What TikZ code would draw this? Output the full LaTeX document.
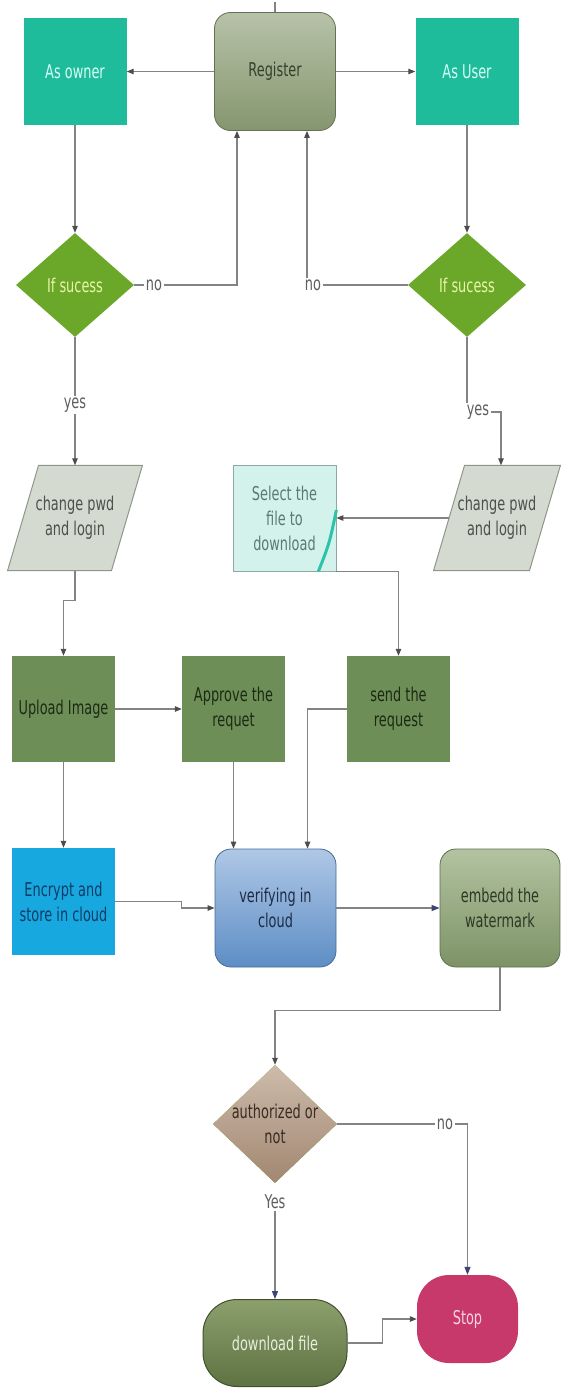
\documentclass[tikz,border=0pt]{standalone}
\usepackage{fontspec}
\newfontfamily\diagfont[FakeStretch=0.68]{DejaVu Sans}
\usetikzlibrary{shapes.geometric,arrows.meta,backgrounds}

\definecolor{tealfill}{HTML}{1FBC9C}
\definecolor{tealtext}{HTML}{D6FFF6}
\definecolor{regtop}{HTML}{B7C2A8}
\definecolor{regbot}{HTML}{85966F}
\definecolor{regtext}{HTML}{34412C}
\definecolor{okfill}{HTML}{6BA829}
\definecolor{oktext}{HTML}{E6F5A8}
\definecolor{parafill}{HTML}{D5DAD1}
\definecolor{paraline}{HTML}{8E968A}
\definecolor{paratext}{HTML}{4C5249}
\definecolor{selfill}{HTML}{D3F2EB}
\definecolor{selline}{HTML}{8FA8A2}
\definecolor{seltext}{HTML}{5A7A72}
\definecolor{selstripe}{HTML}{2CC4A8}
\definecolor{olivefill}{HTML}{6E8E57}
\definecolor{olivetext}{HTML}{1C2A13}
\definecolor{encfill}{HTML}{18A8E0}
\definecolor{enctext}{HTML}{0F3C66}
\definecolor{vertop}{HTML}{AFC8E6}
\definecolor{verbot}{HTML}{5D8DC5}
\definecolor{vertext}{HTML}{1E2C46}
\definecolor{embtop}{HTML}{B3C3A1}
\definecolor{embbot}{HTML}{7D9366}
\definecolor{embtext}{HTML}{2D3925}
\definecolor{authtop}{HTML}{CDBBAB}
\definecolor{authbot}{HTML}{A28771}
\definecolor{authtext}{HTML}{3A2C22}
\definecolor{dltop}{HTML}{8CA06E}
\definecolor{dlbot}{HTML}{5E7242}
\definecolor{dltext}{HTML}{E6EEDC}
\definecolor{stopfill}{HTML}{C8396B}
\definecolor{stoptext}{HTML}{F7D2E2}
\definecolor{tagtext}{HTML}{5E5E5E}
\definecolor{linecol}{HTML}{838383}
\definecolor{tipcol}{HTML}{4D4D4D}
\definecolor{tipblue}{HTML}{3E4372}

\tikzset{
  base/.style={font=\diagfont\fontsize{19}{25}\selectfont, align=center, inner sep=0pt},
  box/.style={base, rectangle, minimum width=103pt, minimum height=106pt},
  tealbox/.style={box, fill=tealfill, text=tealtext, minimum height=107pt},
  olivebox/.style={box, fill=olivefill, text=olivetext},
  softbox/.style={base, rounded corners=16pt, draw=#1bot!75!black, line width=0.8pt,
    minimum width=121pt, minimum height=118pt, top color=#1top, bottom color=#1bot, text=#1text},
  decision/.style={base, diamond, minimum width=118pt, minimum height=104pt, inner sep=-8pt,
    fill=okfill, text=oktext},
  slanted/.style={base, minimum height=105pt, text=paratext},
  parashape/.style={fill=parafill, draw=paraline, line width=1pt},
  tag/.style={base, text=tagtext, inner sep=1.5pt},
  link/.style={draw=linecol, line width=1.1pt},
  flow/.style={link, -{Triangle[length=7pt,width=5.5pt,color=tipcol]}},
  flowb/.style={link, -{Triangle[length=8pt,width=6pt,color=tipblue]}}
}

\begin{document}
\begin{tikzpicture}[x=1pt,y=-1pt]
    \useasboundingbox (0,0) rectangle (561,1389);
    %% top row
    \coordinate (entry) at (275,2);
    \node[softbox=reg] (reg) at (275,71.5) {Register};
    \node[tealbox] (owner) at (75,71.5) {As owner};
    \node[tealbox] (user) at (467,71.5) {As User};
    %% checks
    \node[decision] (okowner) at (75,285) {If sucess};
    \node[decision] (okuser) at (467,285) {If sucess};
    \node[tag] (noowner) at (154,285) {no};
    \node[tag] (nouser) at (313,285) {no};
    \node[tag] (yesowner) at (75,405) {yes};
    \node[tag] (yesuser) at (478,412) {yes};
    %% login
    \node[slanted, minimum width=103.5pt] (loginowner) at (75,518) {change pwd\\and login};
    \node[slanted, minimum width=95.5pt] (loginuser) at (497,518) {change pwd\\and login};
    \node[box, fill=selfill, draw=selline, line width=0.8pt, text=seltext] (select) at (284.5,518) {Select the\\file to\\download};
    \draw[selstripe, line width=3pt] ([xshift=-18pt]select.south east)
        .. controls ([xshift=-7pt,yshift=28pt]select.south east) .. ([yshift=8pt]select.east);
    \begin{scope}[on background layer]
        \draw[parashape] ([xshift=-15.5pt]loginowner.south west) -- ([xshift=15.5pt]loginowner.north west)
            -- ([xshift=15.5pt]loginowner.north east) -- ([xshift=-15.5pt]loginowner.south east) -- cycle;
        \draw[parashape] ([xshift=-15.5pt]loginuser.south west) -- ([xshift=15.5pt]loginuser.north west)
            -- ([xshift=15.5pt]loginuser.north east) -- ([xshift=-15.5pt]loginuser.south east) -- cycle;
    \end{scope}
    %% requests
    \node[olivebox] (upload) at (63.5,709) {Upload Image};
    \node[olivebox] (approve) at (233.5,709) {Approve the\\requet};
    \node[olivebox] (send) at (398.5,709) {send the\\request};
    %% cloud
    \node[box, fill=encfill, text=enctext, minimum height=107pt] (encrypt) at (63.5,901.5) {Encrypt and\\store in cloud};
    \node[softbox=ver] (verify) at (275.5,908) {verifying in\\cloud};
    \node[softbox=emb, minimum width=120pt] (embed) at (500,908) {embedd the\\watermark};
    %% result
    \node[decision, minimum width=124pt, minimum height=118pt, top color=authtop, bottom color=authbot,
        text=authtext] (auth) at (275,1124) {authorized or\\not};
    \node[tag] (noauth) at (445,1124) {no};
    \node[tag] (yesauth) at (275,1202) {Yes};
    \node[base, rounded corners=34pt, minimum width=144pt, minimum height=87pt, top color=dltop,
        bottom color=dlbot, draw=dlbot!70!black, line width=1pt, text=dltext] (download) at (275,1343) {download file};
    \node[base, rounded corners=32pt, minimum width=101pt, minimum height=88pt, fill=stopfill,
        text=stoptext] (stop) at (467.5,1319) {Stop};
    %% connectors
    \draw[link] (entry) -- (reg.north);
    \draw[flow] (reg.west) -- (reg.west -| owner.east);
    \draw[flow] (reg.east) -- (reg.east -| user.west);
    \draw[flow] (owner.south) -- (okowner.north);
    \draw[link] (okowner.east) -- (noowner.west);
    \draw[flow] (noowner.east) -| ([xshift=-38pt]reg.south);
    \draw[flow] (user.south) -- (okuser.north);
    \draw[link] (okuser.west) -- (nouser.east);
    \draw[flow] ([xshift=-6pt]nouser.north) -- ([xshift=32pt]reg.south);
    \draw[link] (okowner.south) -- (yesowner.north);
    \draw[flow] (yesowner.south) -- (loginowner.north);
    \draw[link] (okuser.south) -- (okuser.south |- yesuser.north);
    \draw[flow] (yesuser.east) -| ([xshift=4pt]loginuser.north);
    \draw[flow] (loginuser.west) -- (select.east);
    \draw[flow] (select.south east) -| (send.north);
    \draw[flow] (loginowner.south) -- ++(0,30) -| (upload.north);
    \draw[flow] (upload) -- (approve);
    \draw[flow] (upload) -- (encrypt);
    \draw[flow] (approve.south) -- (approve.south |- verify.north);
    \draw[flow] (send.west) -| ([xshift=32pt]verify.north);
    \draw[flow] (encrypt.east) -- ++(66,0) |- (verify.west);
    \draw[flowb] (verify) -- (embed);
    \draw[flow] (embed.south) -- ++(0,43) -| (auth.north);
    \draw[link] (auth.east) -- (noauth.west);
    \draw[flowb] (noauth.east) -| (stop.north);
    \draw[flowb] (yesauth.south) -- (download.north);
    \draw[flow] (download.east) -- ++(35,0) |- (stop.west);
\end{tikzpicture}
\end{document}
